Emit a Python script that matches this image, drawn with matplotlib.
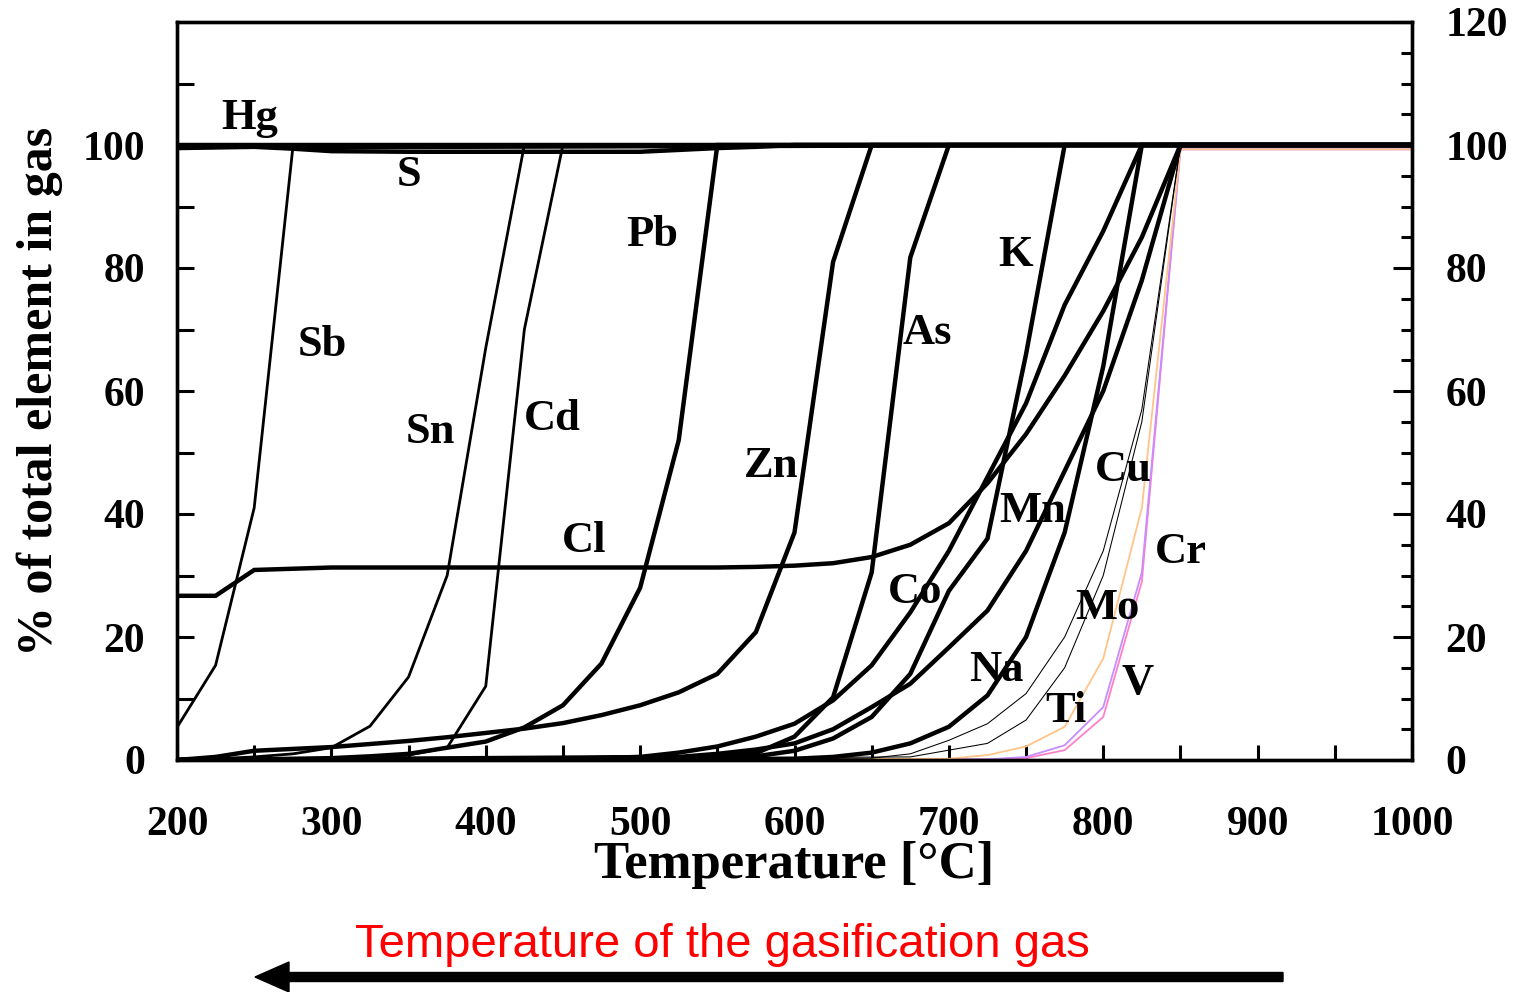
import matplotlib
matplotlib.use("Agg")
import matplotlib.pyplot as plt
import numpy as np

# ---------------- data ----------------
T_hg = [200, 1000]
Hg = [100, 100]

T_s = [200, 250, 275, 300, 350, 400, 450, 500, 525, 550, 575, 600, 1000]
S = [99.5, 99.7, 99.4, 99.0, 98.9, 98.9, 98.9, 98.9, 99.2, 99.5, 99.7, 100, 100]

T_sb = [200, 225, 250, 275, 1000]
Sb = [5.3, 15.4, 41, 99.5, 100]

T_sn = [200, 225, 250, 275, 300, 325, 350, 375, 400, 425, 1000]
Sn = [0, 0.2, 0.5, 1.0, 2.0, 5.5, 13.5, 30, 67, 100, 100]

T_cd = [200, 300, 325, 350, 375, 400, 425, 450, 1000]
Cd = [0, 0.1, 0.3, 0.8, 2.0, 12, 70, 100, 100]

T_pb = [200, 250, 300, 325, 350, 375, 400, 425, 450, 475, 500, 525, 550, 1000]
Pb = [0, 0.1, 0.3, 0.6, 1.0, 2.0, 3.0, 5.3, 8.9, 15.7, 28, 52, 100, 100]

T_zn = [200, 225, 250, 275, 300, 325, 350, 375, 400, 425, 450, 475, 500, 525,
        550, 575, 600, 625, 650, 1000]
Zn = [0, 0.5, 1.5, 1.8, 2.1, 2.6, 3.1, 3.7, 4.4, 5.1, 6.0, 7.3, 8.9, 11,
      14, 20.8, 37, 81, 100, 100]

T_cl = [200, 225, 250, 275, 300, 400, 500, 550, 575, 600, 625, 650, 675, 700,
        725, 750, 775, 800, 825, 850, 1000]
Cl = [26.7, 26.7, 30.9, 31.1, 31.3, 31.3, 31.3, 31.3, 31.4, 31.6, 32, 33, 35, 38.5,
      45, 53, 62.5, 73, 85, 100, 100]

T_as = [200, 500, 550, 575, 600, 625, 650, 675, 700, 1000]
As = [0, 0.1, 0.4, 1.1, 3.8, 10.2, 30.5, 81.7, 100, 100]

T_co = [200, 450, 500, 525, 550, 575, 600, 625, 650, 675, 700, 725, 750, 775, 800, 825, 1000]
Co = [0, 0.2, 0.5, 1.2, 2.2, 3.8, 5.9, 9.7, 15.4, 24, 34, 46, 58, 74, 86, 100, 100]

T_k = [200, 550, 575, 600, 625, 650, 675, 700, 725, 750, 775, 1000]
K = [0, 0.2, 0.6, 1.5, 3.5, 7.0, 14, 27.5, 36, 66, 100, 100]

T_mn = [200, 525, 550, 575, 600, 625, 650, 675, 700, 725, 750, 775, 800, 825, 850, 1000]
Mn = [0, 0.5, 1.0, 1.7, 2.7, 5.0, 8.6, 12.4, 18.3, 24.3, 34, 47, 60, 78, 100, 100]

T_na = [200, 600, 625, 650, 675, 700, 725, 750, 775, 800, 825, 1000]
Na = [0, 0.2, 0.5, 1.2, 2.7, 5.4, 10.5, 20, 37, 64, 100, 100]

T_cu = [200, 650, 675, 700, 725, 750, 775, 800, 825, 850, 1000]
Cu = [0, 0.3, 1.0, 3.2, 5.9, 10.8, 20, 34, 57, 100, 100]

T_mo = [200, 675, 700, 725, 750, 775, 800, 825, 850, 1000]
Mo = [0, 0.5, 1.6, 2.7, 6.5, 15, 30, 55, 100, 100]

T_ti = [200, 700, 725, 750, 775, 800, 825, 850, 1000]
Ti = [0, 0.2, 0.8, 2.2, 5.4, 16.5, 41, 99.3, 99.3]

T_v = [200, 725, 750, 775, 800, 825, 850, 1000]
V = [0, 0.1, 0.5, 2.4, 8.6, 30.5, 99.3, 99.3]

T_cr = [200, 725, 750, 775, 800, 825, 850, 1000]
Cr = [0, 0.1, 0.3, 1.6, 7.0, 29, 99.3, 99.3]

labels = ["Hg", "S", "Sb", "Sn", "Cd", "Pb", "Cl", "Zn", "As", "K", "Cu", "Mn",
          "Cr", "Co", "Mo", "Na", "Ti", "V"]
label_T = [247, 350, 294, 364, 443, 508, 464, 585, 686, 743, 813, 754,
           850, 678, 803, 731, 776, 822]
label_y = [104.4, 95.1, 67.5, 53.3, 55.4, 85.4, 35.6, 47.8, 69.4, 82.1, 47.2, 40.5,
           33.8, 27.3, 24.7, 14.6, 8.0, 12.5]

x_ticks_major = [200, 300, 400, 500, 600, 700, 800, 900, 1000]

# ---------------- figure ----------------
plt.rcParams['font.family'] = ['Liberation Serif', 'DejaVu Serif']
fig = plt.figure(figsize=(15.21, 9.92), dpi=100)
ax = fig.add_axes([177/1521, 1-760/992, (1412-177)/1521, (760-22)/992])

THICK = 3.2
MED = 2.0
FINE = 0.75

series = [
    (T_cr, Cr, '#FF80C8', 1.3),
    (T_v, V, '#C88CFF', 1.3),
    (T_ti, Ti, '#FFC48A', 1.3),
    (T_hg, Hg, 'black', THICK),
    (T_s, S, 'black', THICK),
    (T_sb, Sb, 'black', MED),
    (T_sn, Sn, 'black', MED),
    (T_cd, Cd, 'black', MED),
    (T_pb, Pb, 'black', THICK),
    (T_zn, Zn, 'black', THICK),
    (T_cl, Cl, 'black', THICK),
    (T_as, As, 'black', THICK),
    (T_co, Co, 'black', THICK),
    (T_k, K, 'black', THICK),
    (T_mn, Mn, 'black', THICK),
    (T_na, Na, 'black', THICK),
    (T_cu, Cu, 'black', FINE),
    (T_mo, Mo, 'black', FINE),
]
for tx, vy, col, lw in series:
    ax.plot(tx, vy, color=col, lw=lw, solid_joinstyle='miter')

for lab, tx, vy in zip(labels, label_T, label_y):
    ax.text(tx, vy, lab, fontsize=32, fontweight='bold', ha='center', va='center')

ax.set_xlim(200, 1000)
ax.set_ylim(0, 120)
ax.set_xticks(x_ticks_major)
ax.set_xticks(np.arange(250, 1000, 100), minor=True)
ax.set_yticks(np.arange(0, 101, 20))
ax.set_yticks(np.arange(10, 111, 10), minor=True)
ax.tick_params(axis='both', which='both', direction='in', width=2.2)
ax.tick_params(axis='x', which='major', length=11, pad=33, labelsize=30)
ax.tick_params(axis='x', which='minor', length=11)
ax.tick_params(axis='y', which='major', length=12, pad=23, labelsize=30)
ax.tick_params(axis='y', which='minor', length=12)
for lab in ax.get_xticklabels() + ax.get_yticklabels():
    lab.set_fontweight('bold')
for sp in ax.spines.values():
    sp.set_linewidth(2.4)

ax2 = ax.twinx()
ax2.set_ylim(0, 120)
ax2.set_yticks(np.arange(0, 121, 20))
ax2.set_yticks(np.arange(5, 120, 5), minor=True)
ax2.tick_params(axis='y', which='major', direction='in', length=14, width=2.2, pad=24, labelsize=30)
ax2.tick_params(axis='y', which='minor', direction='in', length=8, width=2.2)
for lab in ax2.get_yticklabels():
    lab.set_fontweight('bold')
for sp in ax2.spines.values():
    sp.set_linewidth(2.4)

ax.set_xlabel('Temperature [°C]', fontsize=38, fontweight='bold', labelpad=-2)
ax.set_ylabel('% of total element in gas', fontsize=36, fontweight='bold', labelpad=14)

fig.text(722/1521, 1-945/992, 'Temperature of the gasification gas', color='red',
         fontsize=34, family='Liberation Sans', ha='center', va='center')
fig.add_artist(matplotlib.patches.FancyArrow(1283/1521, 1-977/992, -(1283-255)/1521, 0,
               width=9/992, head_width=30/992, head_length=34/1521,
               length_includes_head=True, color='black', transform=fig.transFigure))

fig.savefig('out.png', dpi=100)
